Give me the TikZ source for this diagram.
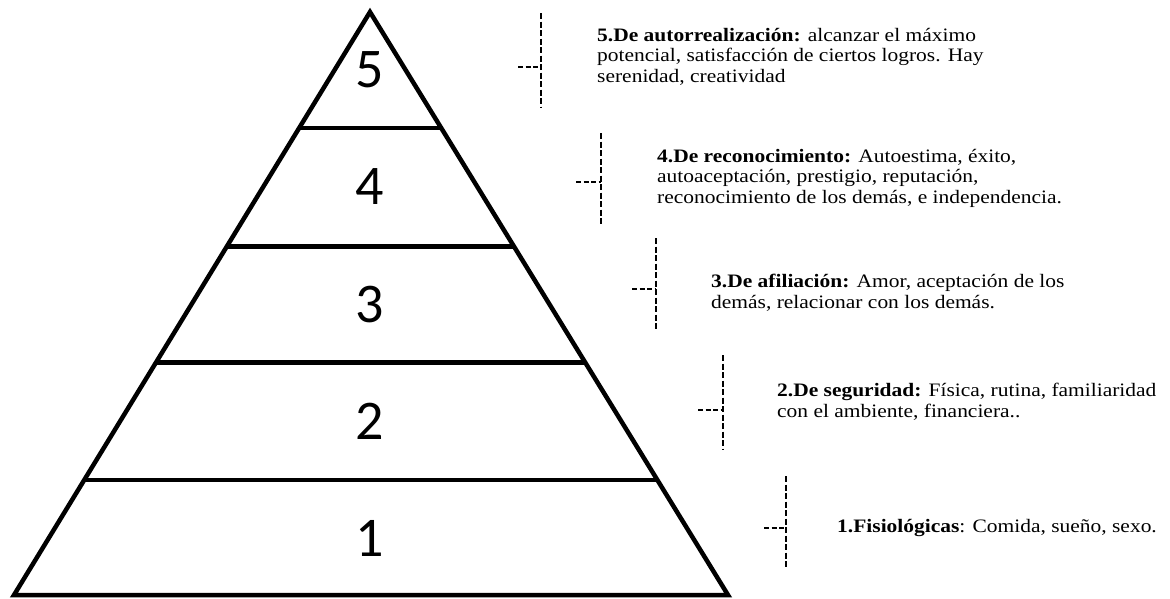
\documentclass[tikz,border=0pt]{standalone}
\usepackage{fontspec}
\setmainfont{Liberation Serif}[FakeStretch=1.13]
\newfontfamily\tierfont{Carlito}
\usetikzlibrary{positioning,calc}

\begin{document}
\begin{tikzpicture}[
    x=1pt, y=-1pt,
    tierline/.style={draw=black, line width=4.5pt},
    tiernum/.style={font=\tierfont\fontsize{56}{56}\selectfont, inner sep=0pt},
    bracket/.style={draw=black, line width=2.6pt, dash pattern=on 6pt off 2.5pt},
    tick/.style={draw=black, line width=2pt, dash pattern=on 5pt off 2.5pt},
    needtext/.style={anchor=north west, align=left, inner sep=0pt,
        font=\fontsize{19}{20.5}\selectfont}
]

\useasboundingbox (0,0) rectangle (1170,598);

% --- PYRAMID ---
\coordinate (apex) at (370,12);
\coordinate (baseL) at (14,595);
\coordinate (baseR) at (728,595);

\draw[tierline, line join=miter] (apex) -- (baseR) -- (baseL) -- cycle;

% Tier borders
\draw[tierline] ($(apex)!0.1986!(baseL)$) -- ($(apex)!0.1986!(baseR)$);
\draw[tierline] ($(apex)!0.4024!(baseL)$) -- ($(apex)!0.4024!(baseR)$);
\draw[tierline] ($(apex)!0.601!(baseL)$) -- ($(apex)!0.601!(baseR)$);
\draw[tierline] ($(apex)!0.803!(baseL)$) -- ($(apex)!0.803!(baseR)$);

% Tier numbers
\node[tiernum] (tier5) at (370,70) {5};
\node[tiernum] (tier4) at (370,187) {4};
\node[tiernum] (tier3) at (370,305) {3};
\node[tiernum] (tier2) at (370,421) {2};
\node[tiernum] (tier1) at (370,538) {1};

% --- BRACKETS ---
\draw[bracket] (541,13) -- (541,107);
\draw[tick] (518,67) -- (541,67);

\draw[bracket] (601,133) -- (601,225);
\draw[tick] (576,182) -- (601,182);

\draw[bracket] (656,238) -- (656,330);
\draw[tick] (632,289) -- (656,289);

\draw[bracket] (723,355) -- (723,449);
\draw[tick] (698,410) -- (723,410);

\draw[bracket] (786,476) -- (786,568);
\draw[tick] (764,528) -- (786,528);

% --- NEEDS ---
\node[needtext] (need5) at (597,28) {
    \textbf{5.De autorrealización:} alcanzar el máximo\\
    potencial, satisfacción de ciertos logros. Hay\\
    serenidad, creatividad
};

\node[needtext] (need4) at (657,149) {
    \textbf{4.De reconocimiento:} Autoestima, éxito,\\
    autoaceptación, prestigio, reputación,\\
    reconocimiento de los demás, e independencia.
};

\node[needtext] (need3) at (711,274) {
    \textbf{3.De afiliación:} Amor, aceptación de los\\
    demás, relacionar con los demás.
};

\node[needtext] (need2) at (777,383) {
    \textbf{2.De seguridad:} Física, rutina, familiaridad\\
    con el ambiente, financiera..
};

\node[needtext] (need1) at (837,519) {
    \textbf{1.Fisiológicas}: Comida, sueño, sexo.
};

\end{tikzpicture}
\end{document}
